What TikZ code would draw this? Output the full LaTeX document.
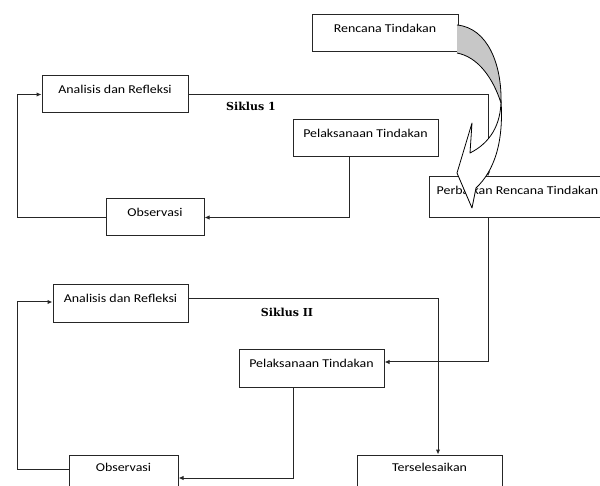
\documentclass[tikz,border=0pt]{standalone}
\usepackage{fontspec}
\setmainfont{Carlito}[FakeStretch=1.16]
\newfontfamily\sikfont{DejaVu Serif}
\usetikzlibrary{arrows.meta}
\begin{document}
\begin{tikzpicture}[x=1pt,y=-1pt,
  box/.style={draw=black!85, line width=1pt, fill=white, inner sep=0pt,
    minimum height=37pt, text height=8pt, text depth=10pt,
    font=\fontsize{12}{14}\selectfont},
  conn/.style={draw=black!85, line width=1pt, -{Latex[length=5pt,width=4.5pt]}},
  sik/.style={font=\sikfont\bfseries\fontsize{11}{13}\selectfont}]
\useasboundingbox (0,0) rectangle (600,486);
% nodes
\node[box, minimum width=146pt] (ren) at (385,33.5) {Rencana Tindakan};
\node[box, minimum width=146pt] (ana1) at (115,94.5) {Analisis dan Refleksi};
\node[box, minimum width=145pt] (pel1) at (365.5,138.5) {Pelaksanaan Tindakan};
\node[box, minimum width=98pt] (obs1) at (155,217.5) {Observasi};
\node[box, minimum width=177pt, minimum height=41pt, text depth=13pt] (per) at (517.5,197.5) {Perbaikan Rencana Tindakan};
\node[box, minimum width=135pt, minimum height=38pt] (ana2) at (120.5,304) {Analisis dan Refleksi};
\node[box, minimum width=145pt, minimum height=38pt] (pel2) at (311.5,369) {Pelaksanaan Tindakan};
\node[box, minimum width=109pt, minimum height=34pt] (obs2) at (123.5,472) {Observasi};
\node[box, minimum width=145pt, minimum height=34pt] (ter) at (429.5,472) {Terselesaikan};
\node[sik] (s1) at (251,106) {Siklus 1};
\node[sik] (s2) at (287,312) {Siklus II};
% helper coordinates
\coordinate (c1) at (488,0);
\coordinate (c2) at (349,0);
\coordinate (xl) at (17,0);
\coordinate (k1) at (488,362);
\coordinate (k2) at (438,299);
\coordinate (k3) at (293,478);
\coordinate (k4) at (17,469);
\coordinate (k5) at (17,302);
% connectors
\draw[conn] (ana1.east) -| (c1 |- per.north);
\draw[conn] (pel1.south -| c2) |- (obs1.east);
\draw[conn] (obs1.west) -| (xl |- ana1.west) -- (ana1.west);
\draw[conn] (c1 |- per.south) -- (k1) -- (k1 -| pel2.east);
\draw[conn] (ana2.east |- k2) -- (k2) -- (k2 |- ter.north);
\draw[conn] (pel2.south -| k3) -- (k3) -- (k3 -| obs2.east);
\draw[conn] (k4 -| obs2.west) -- (k4) -- (k5) -- (k5 -| ana2.west);
% curved block arrow
\draw[fill=black!22, line width=0.8pt, line join=round]
  (457,25) .. controls (488,28) and (502,65) .. (501,103)
  .. controls (493,78) and (478,57) .. (457,53);
\draw[fill=white, line width=0.8pt, line join=round]
  (501,100) .. controls (504,145) and (493,172) .. (476,188)
  -- (472,208) -- (457,173) -- (472,123) -- (470,153)
  .. controls (490,143) and (501,125) .. (501,100) -- cycle;
\end{tikzpicture}
\end{document}
